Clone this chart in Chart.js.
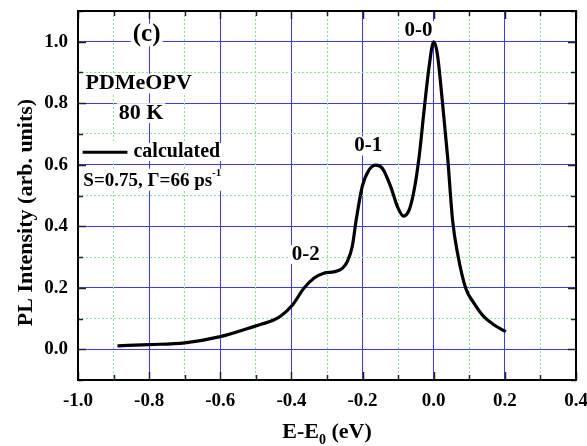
<!DOCTYPE html>
<html><head><meta charset="utf-8">
<script src="https://cdn.jsdelivr.net/npm/chart.js@4"></script>
<style>html,body{margin:0;padding:0;background:#fff;}</style>
</head><body>
<canvas id="c" width="587" height="446"></canvas>
<script>
const energy = [-0.889, -0.8, -0.7, -0.6, -0.5, -0.45, -0.43, -0.397, -0.365, -0.337, -0.309, -0.280, -0.257, -0.243, -0.229, -0.218, -0.201, -0.182, -0.163, -0.144, -0.121, -0.102, -0.085, -0.069, -0.055, -0.041, -0.027, -0.013, 0.0, 0.010, 0.024, 0.039, 0.053, 0.067, 0.090, 0.113, 0.141, 0.170, 0.203];
const intensity = [0.011, 0.015, 0.021, 0.041, 0.076, 0.095, 0.108, 0.144, 0.198, 0.231, 0.247, 0.252, 0.263, 0.285, 0.334, 0.42, 0.529, 0.583, 0.599, 0.588, 0.529, 0.464, 0.433, 0.453, 0.518, 0.626, 0.778, 0.919, 1.0, 0.962, 0.810, 0.626, 0.42, 0.312, 0.198, 0.150, 0.106, 0.079, 0.057];
const xMajorTicks = [-1.0, -0.8, -0.6, -0.4, -0.2, 0.0, 0.2, 0.4];
const xTickLabels = ['-1.0', '-0.8', '-0.6', '-0.4', '-0.2', '0.0', '0.2', '0.4'];
const yMajorTicks = [0.0, 0.2, 0.4, 0.6, 0.8, 1.0];
const yTickLabels = ['0.0', '0.2', '0.4', '0.6', '0.8', '1.0'];
const peakLabels = ['0-0', '0-1', '0-2'];
const peakLabelPos = [[-0.043, 1.036], [-0.184, 0.661], [-0.360, 0.308]];

const FONT = 'Liberation Serif';
const BLUE = '#3a3aff';
const GREEN = '#8fe88f';
const isMajor = v => Math.abs(v * 5 - Math.round(v * 5)) < 1e-6;
function labelFor(v, majors, labels) {
  for (let i = 0; i < majors.length; i++) if (Math.abs(v - majors[i]) < 1e-6) return labels[i];
  return '';
}
const tickFont = { family: FONT, size: 19, weight: 'bold' };
function noPad(s) { s.paddingTop = 0; s.paddingBottom = 0; s.paddingLeft = 0; s.paddingRight = 0; }

function boxText(ctx, str, x, y, size, align) {
  ctx.font = 'bold ' + size + 'px "' + FONT + '"';
  ctx.textAlign = align || 'left';
  ctx.textBaseline = 'middle';
  const w = ctx.measureText(str).width;
  let left = x;
  if (align === 'center') left = x - w / 2;
  ctx.fillStyle = '#fff';
  ctx.fillRect(left - 2, y - size * 0.45, w + 4, size * 0.9);
  ctx.fillStyle = '#000';
  ctx.fillText(str, x, y);
}

const decor = {
  id: 'decor',
  afterDatasetsDraw(chart) {
    const ctx = chart.ctx;
    const xs = chart.scales.x, ys = chart.scales.y;
    const a = chart.chartArea;
    ctx.save();
    peakLabels.forEach((t, i) => {
      boxText(ctx, t, xs.getPixelForValue(peakLabelPos[i][0]), ys.getPixelForValue(peakLabelPos[i][1]), 21, 'center');
    });
    boxText(ctx, '(c)', xs.getPixelForValue(-0.807), ys.getPixelForValue(1.022), 25, 'center');
    boxText(ctx, 'PDMeOPV', xs.getPixelForValue(-0.979), ys.getPixelForValue(0.864), 22, 'left');
    boxText(ctx, '80 K', xs.getPixelForValue(-0.823), ys.getPixelForValue(0.768), 22, 'center');
    const ly = ys.getPixelForValue(0.641);
    ctx.fillStyle = '#fff';
    ctx.fillRect(xs.getPixelForValue(-0.99), ly - 9, 50, 18);
    ctx.strokeStyle = '#000'; ctx.lineWidth = 3;
    ctx.beginPath();
    ctx.moveTo(xs.getPixelForValue(-0.987), ly);
    ctx.lineTo(xs.getPixelForValue(-0.861), ly);
    ctx.stroke();
    boxText(ctx, 'calculated', xs.getPixelForValue(-0.844), ly, 20, 'left');
    const sx = xs.getPixelForValue(-0.985), sy = ys.getPixelForValue(0.548);
    const main = 'S=0.75, \u0393=66 ps';
    ctx.font = 'bold 19px "' + FONT + '"';
    const mw = ctx.measureText(main).width;
    ctx.fillStyle = '#fff';
    ctx.fillRect(sx - 2, sy - 12, mw + 14, 22);
    ctx.fillStyle = '#000';
    ctx.textAlign = 'left'; ctx.textBaseline = 'middle';
    ctx.fillText(main, sx, sy);
    ctx.font = 'bold 11px "' + FONT + '"';
    ctx.fillText('-1', sx + mw, sy - 8);
    ctx.font = 'bold 22px "' + FONT + '"';
    ctx.textBaseline = 'alphabetic';
    ctx.save();
    ctx.translate(32, (a.top + a.bottom) / 2 + 17);
    ctx.rotate(-Math.PI / 2);
    ctx.textAlign = 'center';
    ctx.fillText('PL Intensity (arb. units)', 0, 0);
    ctx.restore();
    const t1 = 'E-E', t2 = '0', t3 = ' (eV)';
    ctx.font = 'bold 22px "' + FONT + '"';
    const w1 = ctx.measureText(t1).width, w3 = ctx.measureText(t3).width;
    ctx.font = 'bold 14px "' + FONT + '"';
    const w2 = ctx.measureText(t2).width;
    let tx = (a.left + a.right) / 2 - (w1 + w2 + w3) / 2;
    const tb = 438;
    ctx.textAlign = 'left';
    ctx.font = 'bold 22px "' + FONT + '"';
    ctx.fillText(t1, tx, tb);
    ctx.font = 'bold 14px "' + FONT + '"';
    ctx.fillText(t2, tx + w1, tb + 6);
    ctx.font = 'bold 22px "' + FONT + '"';
    ctx.fillText(t3, tx + w1 + w2, tb);
    ctx.strokeStyle = '#222'; ctx.lineWidth = 1.5;
    ctx.beginPath();
    xs.ticks.forEach(t => {
      const px = Math.round(xs.getPixelForValue(t.value)) + 0.5;
      const L = isMajor(t.value) ? 8 : 5;
      ctx.moveTo(px, a.bottom); ctx.lineTo(px, a.bottom - L);
      ctx.moveTo(px, a.top); ctx.lineTo(px, a.top + L);
    });
    ys.ticks.forEach(t => {
      const py = Math.round(ys.getPixelForValue(t.value)) + 0.5;
      const L = isMajor(t.value) ? 8 : 5;
      ctx.moveTo(a.left, py); ctx.lineTo(a.left + L, py);
      ctx.moveTo(a.right, py); ctx.lineTo(a.right - L, py);
    });
    ctx.stroke();
    ctx.strokeStyle = '#000'; ctx.lineWidth = 2;
    ctx.strokeRect(a.left, a.top, a.right - a.left, a.bottom - a.top);
    ctx.restore();
  }
};

new Chart(document.getElementById('c'), {
  type: 'line',
  data: {
    datasets: [{
      data: energy.map((e, i) => ({ x: e, y: intensity[i] })),
      borderColor: '#000',
      borderWidth: 3.2,
      pointRadius: 0,
      fill: false,
      cubicInterpolationMode: 'monotone'
    }]
  },
  options: {
    responsive: false,
    animation: false,
    devicePixelRatio: 1,
    layout: { padding: { left: 0, right: 11, top: 11, bottom: 0 } },
    plugins: { legend: { display: false }, tooltip: { enabled: false } },
    scales: {
      x: {
        type: 'linear', min: -1.0, max: 0.4, position: 'bottom',
        ticks: { stepSize: 0.1, autoSkip: false, maxRotation: 0, padding: 10, color: '#000', font: tickFont,
          callback: v => labelFor(v, xMajorTicks, xTickLabels) },
        grid: { drawTicks: false, lineWidth: 1, color: c => (c.tick && isMajor(c.tick.value)) ? BLUE : 'rgba(0,0,0,0)' },
        border: { display: false },
        afterFit: s => { s.height = 66; noPad(s); }
      },
      y: {
        type: 'linear', min: -0.1, max: 1.1, position: 'left',
        ticks: { stepSize: 0.1, autoSkip: false, padding: 10, color: '#000', font: tickFont,
          callback: v => labelFor(v, yMajorTicks, yTickLabels) },
        grid: { drawTicks: false, lineWidth: 1, color: c => (c.tick && isMajor(c.tick.value)) ? BLUE : 'rgba(0,0,0,0)' },
        border: { display: false },
        afterFit: s => { s.width = 78; noPad(s); }
      },
      xm: {
        type: 'linear', min: -1.0, max: 0.4, position: 'top',
        ticks: { display: false, stepSize: 0.1, autoSkip: false },
        grid: { drawTicks: false, lineWidth: 1, color: c => (c.tick && !isMajor(c.tick.value)) ? GREEN : 'rgba(0,0,0,0)' },
        border: { display: false, dash: [2, 2] },
        afterFit: s => { s.height = 0; noPad(s); }
      },
      ym: {
        type: 'linear', min: -0.1, max: 1.1, position: 'right',
        ticks: { display: false, stepSize: 0.1, autoSkip: false },
        grid: { drawTicks: false, lineWidth: 1, color: c => (c.tick && !isMajor(c.tick.value)) ? GREEN : 'rgba(0,0,0,0)' },
        border: { display: false, dash: [2, 2] },
        afterFit: s => { s.width = 0; noPad(s); }
      }
    }
  },
  plugins: [decor]
});
</script>
</body></html>
